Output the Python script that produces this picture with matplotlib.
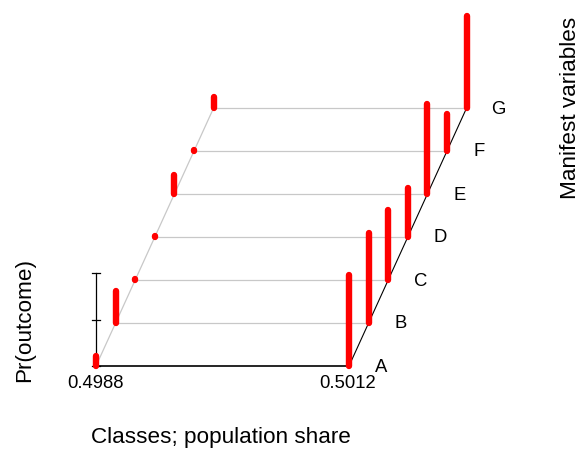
import matplotlib.pyplot as plt
import numpy as np

plt.rcParams['font.family'] = ['Liberation Sans', 'DejaVu Sans']

# latent class model: two classes, seven binary manifest variables
class_share = ['0.4988', '0.5012']
variables = ['A', 'B', 'C', 'D', 'E', 'F', 'G']
pr_class1 = [0.11, 0.34, 0.01, 0.01, 0.20, 0.01, 0.12]
pr_class2 = [0.98, 0.97, 0.75, 0.53, 0.97, 0.40, 0.99]

# oblique projection (screen pixels)
origin = np.array([96.0, 366.0])
class_step = np.array([253.0, 0.0])
var_step = np.array([19.6, -43.0])
z_scale = 93.0


def proj(c, v, z=0.0):
    p = origin + c * class_step + v * var_step
    return p[0], p[1] - z * z_scale


fig = plt.figure(figsize=(5.83, 4.5), dpi=100)
ax = fig.add_axes([0, 0, 1, 1])
ax.set_xlim(0, 583)
ax.set_ylim(450, 0)
ax.axis('off')

nv = len(variables)
grey = '#c8c8c8'

# floor grid
for k in range(1, nv):
    x0, y0 = proj(0, k)
    x1, y1 = proj(1, k)
    ax.plot([x0, x1], [y0, y1], color=grey, lw=0.9, zorder=1)
x0, y0 = proj(0, 0)
x1, y1 = proj(0, nv - 1)
ax.plot([x0, x1], [y0, y1], color=grey, lw=0.9, zorder=1)
x0, y0 = proj(1, 0)
x1, y1 = proj(1, nv - 1)
ax.plot([x0, x1], [y0, y1], color='black', lw=0.8, zorder=2)
x0, y0 = proj(0, 0)
x1, y1 = proj(1, 0)
ax.plot([x0, x1], [y0, y1], color='black', lw=1.2, zorder=2)

# vertical probability scale
sx, sy0 = proj(0, 0, 0)
_, sy1 = proj(0, 0, 1)
ax.plot([sx, sx], [sy0, sy1], color='black', lw=0.9, zorder=2)
for t in [0, 0.5, 1]:
    _, ty = proj(0, 0, t)
    ax.plot([sx - 4, sx + 4], [ty, ty], color='black', lw=0.9, zorder=2)

# probability bars
for c, probs in enumerate([pr_class1, pr_class2]):
    for k, p in enumerate(probs):
        xb, yb = proj(c, k, 0)
        xt, yt = proj(c, k, p)
        ax.plot([xb, xt], [yb, yt], color='#ff0000', lw=4.6,
                solid_capstyle='round', zorder=3)

# labels
for c, s in enumerate(class_share):
    x, y = proj(c, 0)
    ax.text(x - 1, y + 17, s, ha='center', va='center', fontsize=13.3)
for k, v in enumerate(variables):
    x, y = proj(1, k)
    ax.text(x + 32, y + 1, v, ha='center', va='center', fontsize=13.3)

ax.text(221, 437, 'Classes; population share', ha='center', va='center',
        fontsize=16.2)
ax.text(25, 320, 'Pr(outcome)', ha='center', va='center', rotation=90,
        fontsize=16.2)
ax.text(571, 108, 'Manifest variables', ha='center', va='center',
        rotation=90, fontsize=16.2)

fig.savefig('out.png', dpi=100)
